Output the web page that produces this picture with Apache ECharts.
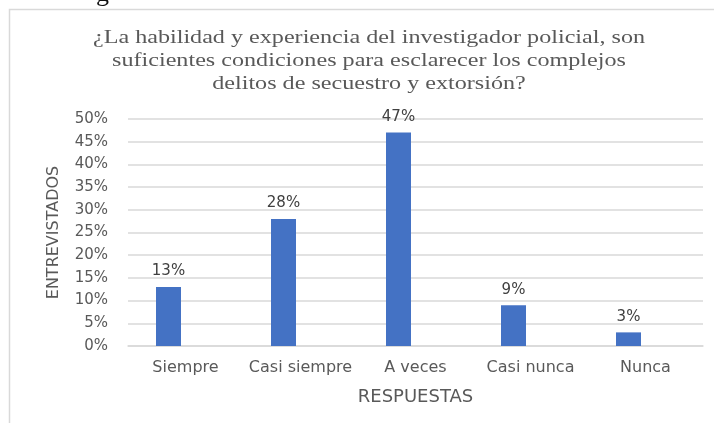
<!DOCTYPE html>
<html>
<head>
<meta charset="utf-8">
<script src="https://cdn.jsdelivr.net/npm/echarts@6/dist/echarts.min.js"></script>
<style>
  html, body { margin: 0; padding: 0; background: #fff; }
  #chart { width: 714px; height: 423px; }
</style>
</head>
<body>
<div id="chart"></div>
<script>
// datos de la encuesta
var categorias = ["Siempre", "Casi siempre", "A veces", "Casi nunca", "Nunca"];
var porcentajes = [13, 28, 47, 9, 3];
var ticksY = [0, 5, 10, 15, 20, 25, 30, 35, 40, 45, 50];

var titulo = "¿La habilidad y experiencia del investigador policial, son\nsuficientes condiciones para esclarecer los complejos\ndelitos de secuestro y extorsión?";

var myChart = echarts.init(document.getElementById("chart"));
myChart.setOption({
    backgroundColor: "#ffffff",
    animation: false,
    graphic: [
        {
            // borde del área del gráfico
            type: "rect",
            shape: { x: 9.5, y: 9.5, width: 720, height: 430 },
            style: { fill: "none", stroke: "#d9d9d9", lineWidth: 1.5 },
            z: -1
        },
        {
            // resto del pie de figura de la página (solo se ve el trazo inferior)
            type: "text",
            x: 96,
            y: 7,
            style: {
                text: "g",
                font: "26px 'Liberation Serif'",
                fill: "#111",
                verticalAlign: "bottom"
            }
        },
        {
            // título (la imagen original está estirada en horizontal)
            type: "text",
            x: 369,
            y: 27,
            scaleX: 1.27,
            style: {
                text: titulo,
                font: "19px 'Liberation Serif'",
                lineHeight: 23,
                fill: "#595959",
                align: "center",
                verticalAlign: "top"
            }
        }
    ],
    grid: {
        left: 128,
        right: 11,
        top: 119,
        bottom: 77
    },
    xAxis: {
        type: "category",
        data: categorias,
        name: "RESPUESTAS",
        nameLocation: "middle",
        nameGap: 42,
        nameTextStyle: { fontFamily: "DejaVu Sans", fontSize: 18, color: "#595959" },
        axisLine: { lineStyle: { color: "#d9d9d9", width: 1.5 } },
        axisTick: { show: false },
        axisLabel: { interval: 0, fontFamily: "DejaVu Sans", fontSize: 16, color: "#595959", margin: 14 }
    },
    yAxis: {
        type: "value",
        min: 0,
        max: 50,
        interval: 5,
        name: "ENTREVISTADOS",
        nameLocation: "middle",
        nameGap: 66,
        nameTextStyle: { fontFamily: "DejaVu Sans", fontSize: 16, color: "#595959" },
        axisLine: { show: false },
        axisTick: { show: false },
        splitLine: { lineStyle: { color: "#d9d9d9", width: 1.5 } },
        axisLabel: {
            fontFamily: "DejaVu Sans",
            fontSize: 15,
            color: "#595959",
            margin: 20,
            formatter: function (v) {
                return ticksY.indexOf(v) >= 0 ? v + "%" : "";
            }
        }
    },
    series: [
        {
            name: "Porcentaje",
            type: "bar",
            data: porcentajes,
            barWidth: 25,
            barGap: "36%",
            itemStyle: { color: "#4472C4" },
            label: {
                show: true,
                position: "top",
                distance: 8,
                formatter: "{c}%",
                fontFamily: "DejaVu Sans",
                fontSize: 15,
                color: "#404040"
            }
        },
        {
            // serie vacía: el original deja un hueco a la derecha de cada barra
            name: "vacia",
            type: "bar",
            data: [],
            barWidth: 25
        }
    ]
});
</script>
</body>
</html>
